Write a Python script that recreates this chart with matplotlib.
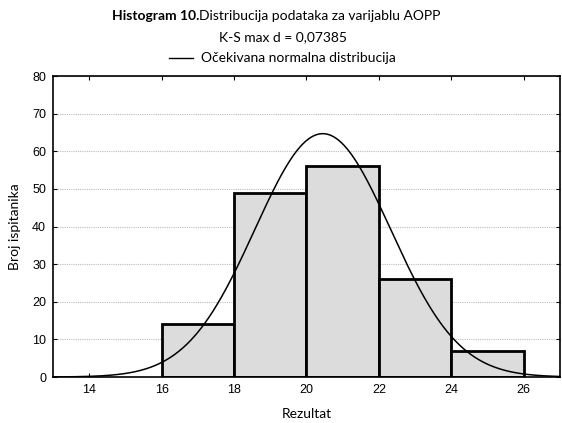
import numpy as np
from matplotlib import pyplot as plt

# histogram data
bin_edges = [16, 18, 20, 22, 24, 26]
counts = [14, 49, 56, 26, 7]
mean = 20.45
sd = 1.875

plt.rcParams['font.family'] = ['Liberation Sans', 'DejaVu Sans']

fig = plt.figure(figsize=(5.62, 4.23), dpi=100)
ax = fig.add_axes([0.0943, 0.1087, 0.902, 0.7116])

widths = np.diff(bin_edges)
ax.bar(bin_edges[:-1], counts, width=widths, align='edge',
       facecolor='#dcdcdc', edgecolor='black', linewidth=2, zorder=2)

n = sum(counts)
xs = np.linspace(13, 27, 400)
ys = n * widths[0] * np.exp(-0.5 * ((xs - mean) / sd) ** 2) / (sd * np.sqrt(2 * np.pi))
ax.plot(xs, ys, color='black', linewidth=1.1, zorder=3)

ax.set_xlim(13, 27)
ax.set_ylim(0, 80)
ax.set_xticks(range(14, 27, 2))
ax.set_yticks(range(0, 81, 10))
ax.yaxis.grid(True, linestyle=(0, (1, 1)), color='#bbbbbb', linewidth=0.8, zorder=0)
ax.set_axisbelow(True)
ax.tick_params(direction='in', top=True, right=True, length=3, labelsize=9, pad=5)
for s in ax.spines.values():
    s.set_linewidth(1.2)

ax.set_xlabel('Rezultat', family='Lato', fontsize=10, labelpad=9)
ax.set_ylabel('Broj ispitanika', family='Lato', fontsize=10, labelpad=8)

# title block
t1 = fig.text(0.199, 0.963, 'Histogram 10.', family='Lato', fontsize=10,
              fontweight='bold', ha='left', va='center')
ax.annotate('Distribucija podataka za varijablu AOPP', xy=(1, 0.5), xycoords=t1,
            family='Lato', fontsize=10, ha='left', va='center', annotation_clip=False)
fig.text(0.503, 0.912, 'K-S max d = 0,07385', family='Lato', fontsize=10, ha='center', va='center')
fig.lines.append(plt.Line2D([0.30, 0.344], [0.862, 0.862], color='black', linewidth=1,
                            transform=fig.transFigure))
fig.text(0.358, 0.862, 'Očekivana normalna distribucija', family='Lato', fontsize=10,
         ha='left', va='center')

plt.savefig('out.png', dpi=100)
